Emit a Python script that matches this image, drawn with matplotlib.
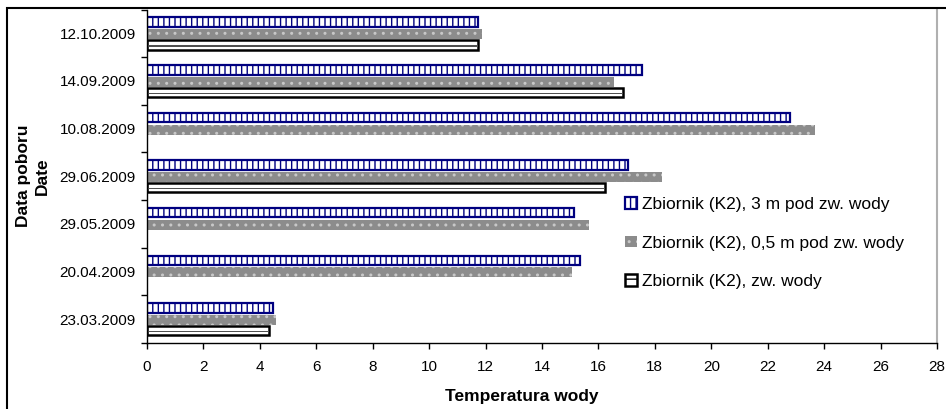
import numpy as np
import matplotlib
matplotlib.use('Agg')
import matplotlib.pyplot as plt
from matplotlib.patches import Rectangle, Patch

plt.rcParams['font.family'] = ['Liberation Sans', 'DejaVu Sans']
plt.rcParams['hatch.linewidth'] = 1.0

# sampling dates, bottom to top
dates = ['23.03.2009', '20.04.2009', '29.05.2009', '29.06.2009',
         '10.08.2009', '14.09.2009', '12.10.2009']
temp_3m = [4.47, 15.36, 15.14, 17.06, 22.8, 17.55, 11.74]
temp_05m = [4.57, 15.07, 15.67, 18.26, 23.69, 16.56, 11.86]
temp_surface = [4.33, np.nan, np.nan, 16.24, np.nan, 16.88, 11.74]

labels = ['Zbiornik (K2), 3 m pod zw. wody',
          'Zbiornik (K2), 0,5 m pod zw. wody',
          'Zbiornik (K2), zw. wody']
x_ticks = list(range(0, 29, 2))

W, H = 946, 409
fig = plt.figure(figsize=(W / 100, H / 100), dpi=100)
ax = fig.add_axes([147 / W, 1 - 343 / H, 790 / W, (343 - 9.5) / H])

y = np.arange(len(dates))
b1 = ax.barh(y + 0.235, temp_3m, height=0.2, color='white',
             edgecolor='#000080', linewidth=1.6, hatch='|||')
b2 = ax.barh(y - 0.02, temp_05m, height=0.21, color='#8c8c8c',
             edgecolor='#c8c8c8', linewidth=0, hatch='..')
ax.barh(y - 0.245, temp_surface, height=0.19, color='white',
        edgecolor='black', linewidth=1.8)
# dark middle stripe of the surface series
ax.barh(y - 0.26, temp_surface, height=0.035, color='#505050', linewidth=0)
b3 = Patch(facecolor='white', edgecolor='black', linewidth=1.8, hatch='--')

ax.set_xlim(0, 28)
ax.set_ylim(-0.5, len(dates) - 0.5)
ax.set_xticks(x_ticks)
ax.set_xticklabels([str(t) for t in x_ticks])
ax.set_yticks(np.arange(len(dates) + 1) - 0.5)
ax.set_yticklabels([])
ax.set_yticks(y, minor=True)
ax.set_yticklabels(dates, minor=True)
ax.tick_params(axis='x', direction='out', length=4, width=1, pad=8,
               labelsize=11)
ax.tick_params(axis='y', which='major', direction='out', length=4, width=1)
ax.tick_params(axis='y', which='minor', length=0, pad=8, labelsize=11)

ax.spines['top'].set_visible(False)
ax.spines['right'].set_color('#b0b0b0')
ax.spines['right'].set_linewidth(1.5)
ax.spines['left'].set_linewidth(1)
ax.spines['bottom'].set_linewidth(1)

leg = ax.legend([b1, b2, b3], labels, loc='center left',
                bbox_to_anchor=((615 - 147) / 790, (343 - 243) / 333.5),
                fontsize=12.5, frameon=True, fancybox=False,
                framealpha=1, facecolor='white', edgecolor='none',
                handlelength=0.65, handleheight=0.65, handletextpad=0.3,
                labelspacing=1.35, borderpad=0.6, borderaxespad=0)

fig.text(522 / W, 1 - 396 / H, 'Temperatura wody', ha='center',
         va='center', fontsize=12.5, fontweight='bold')
fig.text(33 / W, 1 - 176 / H, 'Data poboru\nDate', ha='center',
         va='center', rotation=90, fontsize=12.5, fontweight='bold',
         multialignment='center', linespacing=1.3)

# chart area border
fig.patches.append(Rectangle((7 / W, -0.1), 1.2, 1.1 - 8 / H,
                             transform=fig.transFigure, fill=False,
                             edgecolor='black', linewidth=1.5))

fig.savefig('out.png', dpi=100)
